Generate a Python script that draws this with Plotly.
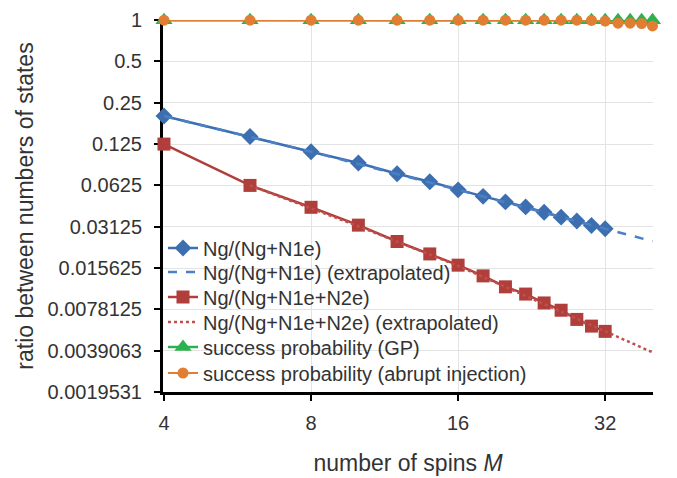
import plotly.graph_objects as go
import math

# ---- data ----
spins = [4, 6, 8, 10, 12, 14, 16, 18, 20, 22, 24, 26, 28, 30, 32, 34, 36, 38, 40]
spins_meas = [4, 6, 8, 10, 12, 14, 16, 18, 20, 22, 24, 26, 28, 30, 32]

ratio_1e = [0.200, 0.142, 0.110, 0.091, 0.076, 0.0665, 0.058, 0.052, 0.0474,
            0.0436, 0.0398, 0.0367, 0.0344, 0.0319, 0.0302]
ratio_2e = [0.125, 0.0625, 0.0433, 0.0321, 0.0244, 0.0198, 0.0164, 0.0137,
            0.0114, 0.0101, 0.0087, 0.0077, 0.0066, 0.0059, 0.0054]

extra_1e_x = [4, 8, 16, 32, 40]
extra_1e_y = [0.200, 0.110, 0.058, 0.0302, 0.0245]
extra_2e_x = [6, 10, 16, 32, 40]
extra_2e_y = [0.0625, 0.0315, 0.0162, 0.0054, 0.0038]

succ_gp = [1.0] * 19
succ_abrupt = [1.0, 1.0, 1.0, 1.0, 1.0, 1.0, 1.0, 1.0, 1.0, 1.0, 1.0, 1.0,
               1.0, 0.995, 0.985, 0.95, 0.95, 0.945, 0.908]

ytick_vals = [1, 0.5, 0.25, 0.125, 0.0625, 0.03125, 0.015625, 0.0078125,
              0.0039063, 0.0019531]
ytick_text = ["1", "0.5", "0.25", "0.125", "0.0625", "0.03125", "0.015625",
              "0.0078125", "0.0039063", "0.0019531"]
xtick_vals = [4, 8, 16, 32]

series_names = ["Ng/(Ng+N1e)", "Ng/(Ng+N1e) (extrapolated)",
                "Ng/(Ng+N1e+N2e)", "Ng/(Ng+N1e+N2e) (extrapolated)",
                "success probability (GP)",
                "success probability (abrupt injection)"]

BLUE = "#3d6fb0"
BLUE2 = "#4a80c6"
RED = "#b03f3b"
RED2 = "#c0504d"
GREEN = "#2bb24c"
ORANGE = "#e07f33"
TXT = "#333333"
FONT = "Liberation Sans, Arial, sans-serif"

fig = go.Figure()
fig.add_trace(go.Scatter(x=spins_meas, y=ratio_1e, mode="lines+markers",
                         name=series_names[0], legend="legend",
                         line=dict(color=BLUE, width=2.5),
                         marker=dict(symbol="diamond", size=13, color=BLUE),
                         cliponaxis=False))
fig.add_trace(go.Scatter(x=extra_1e_x, y=extra_1e_y, mode="lines",
                         name=series_names[1], legend="legend2",
                         line=dict(color=BLUE2, width=2.5, dash="dash")))
fig.add_trace(go.Scatter(x=spins_meas, y=ratio_2e, mode="lines+markers",
                         name=series_names[2], legend="legend3",
                         line=dict(color=RED, width=2.5),
                         marker=dict(symbol="square", size=13, color=RED),
                         cliponaxis=False))
fig.add_trace(go.Scatter(x=extra_2e_x, y=extra_2e_y, mode="lines",
                         name=series_names[3], legend="legend4",
                         line=dict(color=RED2, width=2.5, dash="dot")))
fig.add_trace(go.Scatter(x=spins, y=succ_gp, mode="lines+markers",
                         name=series_names[4], legend="legend5",
                         line=dict(color=GREEN, width=2.5),
                         marker=dict(symbol="triangle-up", size=15, color=GREEN),
                         cliponaxis=False))
fig.add_trace(go.Scatter(x=spins, y=succ_abrupt, mode="lines+markers",
                         name=series_names[5], legend="legend6",
                         line=dict(color=ORANGE, width=2),
                         marker=dict(symbol="circle", size=11, color=ORANGE),
                         cliponaxis=False))

row_centers = [0.3871, 0.3226, 0.2554, 0.1882, 0.1210, 0.0511]
legend_common = dict(x=0.0, xanchor="left", yanchor="middle",
                     bgcolor="rgba(0,0,0,0)", font=dict(size=20, color=TXT),
                     itemwidth=30)
legends = {}
for i, yc in enumerate(row_centers):
    key = "legend" if i == 0 else "legend%d" % (i + 1)
    legends[key] = dict(legend_common, y=yc)

fig.update_layout(
    width=677, height=478,
    margin=dict(l=163, r=24, t=20, b=86),
    paper_bgcolor="white", plot_bgcolor="white",
    font=dict(family=FONT, size=20, color=TXT),
    showlegend=True,
    xaxis=dict(type="log", range=[math.log10(4) - 0.002, math.log10(40) + 0.001],
               tickvals=xtick_vals, ticktext=[str(v) for v in xtick_vals],
               showgrid=True, gridcolor="#e3e3e3", gridwidth=1,
               showline=True, linecolor="black", linewidth=3,
               ticks="outside", ticklen=6, tickwidth=2, tickcolor="black",
               tickfont=dict(size=20, color=TXT), ticklabelstandoff=5,
               zeroline=False, layer="below traces", automargin=False,
               title=dict(text="number of spins <i>M</i>",
                          font=dict(size=23, color=TXT), standoff=22)),
    yaxis=dict(type="log", range=[math.log10(2 ** -9), 0.001],
               tickvals=ytick_vals, ticktext=ytick_text,
               showgrid=True, gridcolor="#e3e3e3", gridwidth=1,
               showline=True, linecolor="black", linewidth=3,
               ticks="outside", ticklen=6, tickwidth=2, tickcolor="black",
               tickfont=dict(size=20, color=TXT), ticklabelstandoff=8,
               zeroline=False, layer="below traces", automargin=False,
               title=dict(text="ratio between numbers of states",
                          font=dict(size=23, color=TXT), standoff=8)),
    **legends,
)

fig.write_html("out.html")
